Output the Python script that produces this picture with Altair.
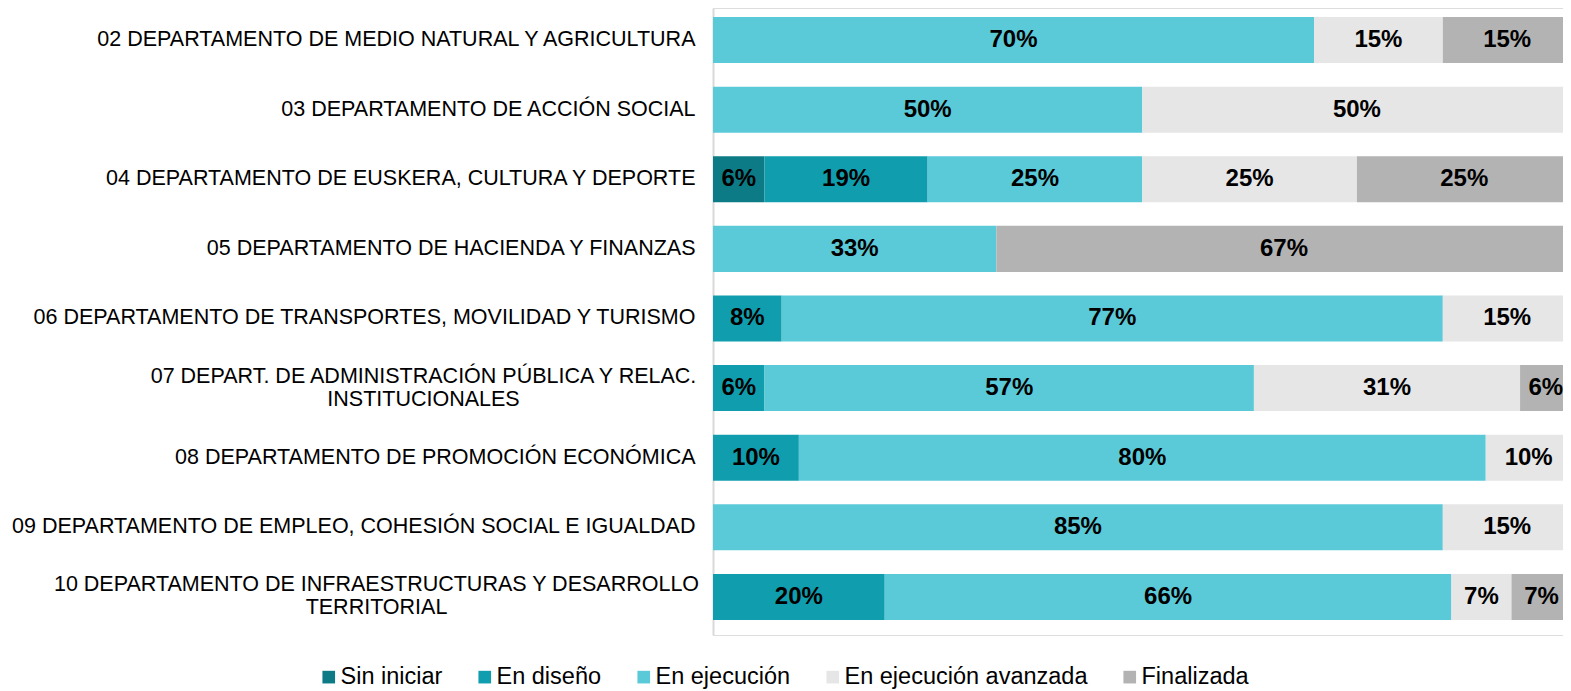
import altair as alt
import pandas as pd

departments = [
    "02 DEPARTAMENTO DE MEDIO NATURAL Y AGRICULTURA",
    "03 DEPARTAMENTO DE ACCIÓN SOCIAL",
    "04 DEPARTAMENTO DE EUSKERA, CULTURA Y DEPORTE",
    "05 DEPARTAMENTO DE HACIENDA Y FINANZAS",
    "06 DEPARTAMENTO DE TRANSPORTES, MOVILIDAD Y TURISMO",
    "07 DEPART. DE ADMINISTRACIÓN PÚBLICA Y RELAC.|INSTITUCIONALES",
    "08 DEPARTAMENTO DE PROMOCIÓN ECONÓMICA",
    "09 DEPARTAMENTO DE EMPLEO, COHESIÓN SOCIAL E IGUALDAD",
    "10 DEPARTAMENTO DE INFRAESTRUCTURAS Y DESARROLLO|TERRITORIAL",
]

statuses = ["Sin iniciar", "En diseño", "En ejecución", "En ejecución avanzada", "Finalizada"]
colors = ["#0c7b86", "#109eae", "#5bcad8", "#e6e6e6", "#b3b3b3"]

sin_iniciar = [0, 0, 6, 0, 0, 0, 0, 0, 0]
en_diseno = [0, 0, 19, 0, 8, 6, 10, 0, 20]
en_ejecucion = [70, 50, 25, 33, 77, 57, 80, 85, 66]
en_ejecucion_avanzada = [15, 50, 25, 0, 15, 31, 10, 15, 7]
finalizada = [15, 0, 25, 67, 0, 6, 0, 0, 7]

series = [sin_iniciar, en_diseno, en_ejecucion, en_ejecucion_avanzada, finalizada]

rows = []
for si, (status, vals) in enumerate(zip(statuses, series)):
    for dept, v in zip(departments, vals):
        if v > 0:
            rows.append({"dept": dept, "status": status, "order": si, "value": v,
                         "label": f"{v}%"})
df = pd.DataFrame(rows)

base = alt.Chart(df).transform_stack(
    stack="value", groupby=["dept"], sort=[alt.SortField("order")], as_=["x0", "x1"]
).transform_calculate(mid="(datum.x0 + datum.x1) / 2")

xscale = alt.Scale(domain=[0, 99.0], nice=False, zero=True)

multiline = "indexof(datum.value, '|') >= 0"

yenc = alt.Y(
    "dept:N",
    sort=departments,
    title=None,
    scale=alt.Scale(paddingInner=0.3393, paddingOuter=0.1724, align=0.375),
    axis=alt.Axis(
        labelExpr="split(datum.label, '|')",
        labelFont="Liberation Sans",
        labelFontSize=21.5,
        labelColor="#000000",
        labelLimit=1000,
        labelAlign={
            "condition": {"test": multiline, "value": "center"},
            "value": "right",
        },
        labelPadding={
            "condition": [
                {"test": "substring(datum.value, 0, 2) == '07'", "value": 290},
                {"test": "substring(datum.value, 0, 2) == '10'", "value": 337},
            ],
            "value": 18,
        },
        labelOffset={
            "condition": {"test": multiline, "value": -11.5},
            "value": 0,
        },
        labelLineHeight=23,
        ticks=False,
        domainColor="#d9d9d9",
        domainWidth=2,
        grid=False,
    ),
)

bars = base.mark_bar(clip=True).encode(
    y=yenc,
    x=alt.X("x0:Q", scale=xscale, axis=None),
    x2="x1:Q",
    color=alt.Color(
        "status:N",
        sort=statuses,
        scale=alt.Scale(domain=statuses, range=colors),
        legend=alt.Legend(
            title=None,
            orient="none",
            direction="horizontal",
            columns=5,
            legendX=-396,
            legendY=657,
            symbolType="square",
            symbolSize=160,
            symbolStrokeWidth=0,
            symbolOpacity=1,
            labelFont="Liberation Sans",
            labelFontSize=23.5,
            labelColor="#000000",
            labelOffset=0,
            columnPadding=30,
            padding=0,
            labelLimit=500,
        ),
    ),
    order=alt.Order("order:Q"),
)

texts = base.mark_text(
    font="Liberation Sans", fontSize=24, fontWeight="bold", color="#000000"
).encode(
    y=alt.Y("dept:N", sort=departments),
    x=alt.X("mid:Q", scale=xscale),
    text="label:N",
)

chart = alt.layer(bars, texts).properties(
    width=850,
    height=627,
    autosize=alt.AutoSizeParams(type="none"),
    padding={"left": 705, "top": 0, "right": 0, "bottom": 64},
).configure_view(stroke=None).configure(background="white")

chart.save("out.html", embed_options={"renderer": "svg", "actions": False})
